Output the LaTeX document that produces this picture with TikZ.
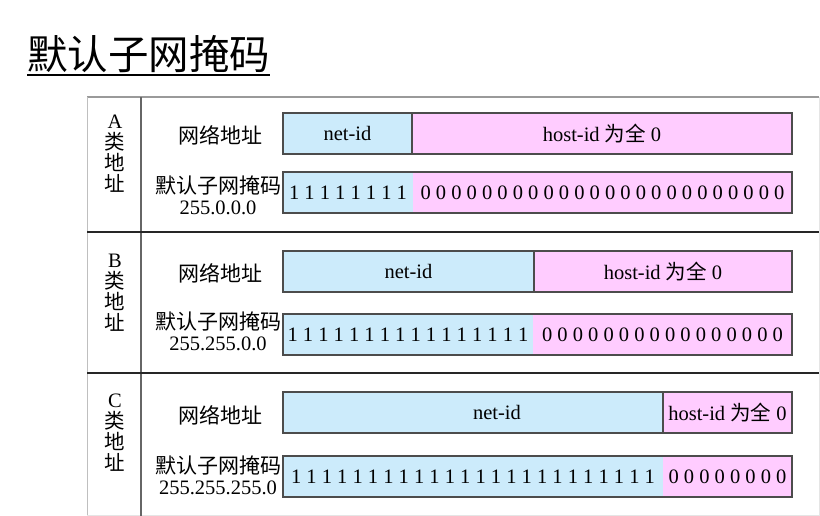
\documentclass[tikz,border=0pt]{standalone}
\usepackage{fontspec}
\setmainfont{Liberation Serif}
\newfontfamily\cjk{Noto Sans CJK SC}
\definecolor{netblue}{HTML}{CCEBFB}
\definecolor{hostpink}{HTML}{FFCCFF}
\definecolor{rulegray}{HTML}{9A9A9A}
\tikzset{
  bar/.style={minimum height=41pt, inner sep=0pt, outer sep=0pt, anchor=north west,
    font=\fontsize{20.5}{22}\selectfont},
  netbar/.style={bar, fill=netblue, draw=black!70, line width=1.2pt},
  hostbar/.style={bar, fill=hostpink, draw=black!70, line width=1.2pt},
  onesbar/.style={bar, fill=netblue},
  zerosbar/.style={bar, fill=hostpink},
  frame/.style={draw=black!70, line width=1.2pt},
  lbl/.style={font=\fontsize{20.5}{21}\selectfont, align=center, inner sep=0pt},
  cjklbl/.style={lbl, font=\cjk\fontsize{21}{21}\selectfont},
}
\begin{document}
\begin{tikzpicture}[x=1pt, y=-1pt]
  \useasboundingbox (0,0) rectangle (820,516);
  % title
  \node[anchor=base west, inner sep=0pt, font=\cjk\fontsize{40.5}{44}\selectfont] (title) at (27,70) {默认子网掩码};
  \draw[line width=2pt] ([yshift=-5pt]title.base west) -- ([yshift=-5pt]title.base east);
  % table rules
  \draw[rulegray, line width=1.5pt] (87,97) -- (819,97);
  \draw[black!25, line width=1pt] (87,97) -- (87,516);
  \draw[black!10, line width=1pt] (819,97) -- (819,516);
  \draw[black!10, line width=1pt] (87,515) -- (819,515);
  \draw[black!60, line width=1.5pt] (141,97) -- (141,516);
  \draw[black!85, line width=1.3pt] (87,232) -- (819,232);
  \draw[black!85, line width=1.3pt] (87,373) -- (819,373);

  % class A
  \node[lbl] (aclass) at (115,154) {A\\{\cjk 类}\\{\cjk 地}\\{\cjk 址}};
  \node[cjklbl] (anetlbl) at (220,135) {网络地址};
  \node[lbl] (amasklbl) at (218,195) {{\cjk\fontsize{21}{21}\selectfont 默认子网掩码}\\255.0.0.0};
  \node[netbar, minimum width=129pt] (anet) at (283,113) {net-id};
  \node[hostbar, minimum width=380pt] (ahost) at (412,113) {host-id {\cjk 为全} 0};
  \node[onesbar, minimum width=130pt] (aones) at (283,172) {1 1 1 1 1 1 1 1};
  \node[zerosbar, minimum width=379pt] (azeros) at (413,172) {0 0 0 0 0 0 0 0 0 0 0 0 0 0 0 0 0 0 0 0 0 0 0 0};
  \draw[frame] (aones.north west) rectangle (azeros.south east);

  % class B
  \node[lbl] (bclass) at (115,293) {B\\{\cjk 类}\\{\cjk 地}\\{\cjk 址}};
  \node[cjklbl] (bnetlbl) at (220,273) {网络地址};
  \node[lbl] (bmasklbl) at (218,331) {{\cjk\fontsize{21}{21}\selectfont 默认子网掩码}\\255.255.0.0};
  \node[netbar, minimum width=251pt] (bnet) at (283,251) {net-id};
  \node[hostbar, minimum width=258pt] (bhost) at (534,251) {host-id {\cjk 为全} 0};
  \node[onesbar, minimum width=250pt] (bones) at (283,314) {1 1 1 1 1 1 1 1 1 1 1 1 1 1 1 1};
  \node[zerosbar, minimum width=259pt] (bzeros) at (533,314) {0 0 0 0 0 0 0 0 0 0 0 0 0 0 0 0};
  \draw[frame] (bones.north west) rectangle (bzeros.south east);

  % class C
  \node[lbl] (cclass) at (115,433) {C\\{\cjk 类}\\{\cjk 地}\\{\cjk 址}};
  \node[cjklbl] (cnetlbl) at (220,415) {网络地址};
  \node[lbl] (cmasklbl) at (218,475) {{\cjk\fontsize{21}{21}\selectfont 默认子网掩码}\\255.255.255.0};
  \node[netbar, minimum width=380pt] (cnet) at (283,392) {};
  \node[lbl] (cnettxt) at (497,412) {net-id};
  \node[hostbar, minimum width=129pt] (chost) at (663,392) {host-id {\cjk 为全} 0};
  \node[onesbar, minimum width=380pt] (cones) at (283,456) {1 1 1 1 1 1 1 1 1 1 1 1 1 1 1 1 1 1 1 1 1 1 1 1};
  \node[zerosbar, minimum width=129pt] (czeros) at (663,456) {0 0 0 0 0 0 0 0};
  \draw[frame] (cones.north west) rectangle (czeros.south east);
\end{tikzpicture}
\end{document}
